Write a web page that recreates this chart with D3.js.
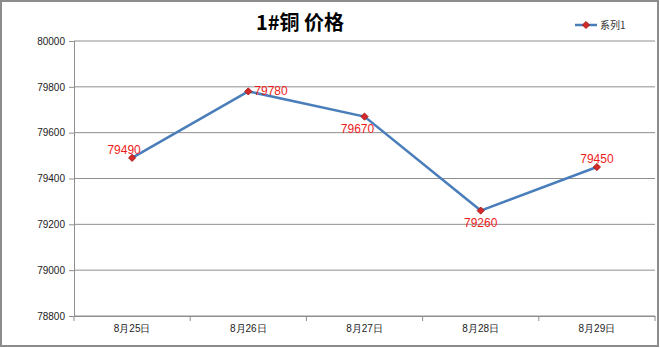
<!DOCTYPE html>
<html>
<head>
<meta charset="utf-8">
<script src="https://cdn.jsdelivr.net/npm/d3@7"></script>
<style>
  body { margin: 0; background: #fff; }
  svg { display: block; font-family: "Liberation Sans", "Noto Sans CJK SC", sans-serif; }
</style>
</head>
<body>
<div id="chart"></div>
<script>
// data
const dates = ["8月25日", "8月26日", "8月27日", "8月28日", "8月29日"];
const prices = [79490, 79780, 79670, 79260, 79450];
const yTicks = [78800, 79000, 79200, 79400, 79600, 79800, 80000];
const seriesName = "系列1";
const chartTitle = "1#铜 价格";
// where each data label sits relative to its point
const labelPos = ["above", "right", "below", "below", "above"];

const W = 660, H = 348;
const margin = { top: 41, right: 5, bottom: 32, left: 74 },
  width = W - margin.left - margin.right,
  height = H - margin.top - margin.bottom;

const svg = d3.select("#chart")
  .append("svg")
  .attr("width", W)
  .attr("height", H);

// outer frame
svg.append("rect")
  .attr("x", 1).attr("y", 1)
  .attr("width", W - 3).attr("height", H - 3)
  .attr("fill", "#fff")
  .attr("stroke", "#8c8c8c")
  .attr("stroke-width", 2);

const g = svg.append("g")
  .attr("transform", `translate(${margin.left},${margin.top})`);

const x = d3.scaleBand()
  .domain(dates)
  .range([0, width]);

const y = d3.scaleLinear()
  .domain([78800, 80000])
  .range([height, 0]);

// gridlines
g.selectAll("line.grid")
  .data(yTicks)
  .enter()
  .append("line")
  .attr("class", "grid")
  .attr("x1", 0).attr("x2", width)
  .attr("y1", d => y(d)).attr("y2", d => y(d))
  .attr("stroke", "#8e8e8e")
  .attr("stroke-width", 1);

// y axis
const yAxis = g.append("g")
  .call(d3.axisLeft(y).tickValues(yTicks).tickSize(5).tickPadding(4).tickFormat(d3.format("d")));
yAxis.select(".domain").attr("stroke", "#8e8e8e");
yAxis.selectAll(".tick line").attr("stroke", "#8e8e8e");
yAxis.selectAll("text").attr("fill", "#222").style("font-size", "10px");

// x axis
const xAxis = g.append("g")
  .attr("transform", `translate(0,${height})`)
  .call(d3.axisBottom(x).tickSize(0).tickPadding(9));
xAxis.select(".domain").attr("stroke", "#8e8e8e");
xAxis.selectAll("text").attr("fill", "#222").style("font-size", "10px");
// tick marks at the category boundaries
g.selectAll("line.xtick")
  .data(dates.concat([null]))
  .enter()
  .append("line")
  .attr("class", "xtick")
  .attr("x1", (d, i) => i * x.step()).attr("x2", (d, i) => i * x.step())
  .attr("y1", height).attr("y2", height + 5)
  .attr("stroke", "#8e8e8e");

const cx = d => x(d) + x.bandwidth() / 2;

// line
g.append("path")
  .datum(prices)
  .attr("fill", "none")
  .attr("stroke", "#4a7ebb")
  .attr("stroke-width", 2.5)
  .attr("d", d3.line()
    .x((d, i) => cx(dates[i]))
    .y(d => y(d)));

// markers: square turned 45 degrees
const diamond = d3.symbol().type(d3.symbolSquare).size(26);
g.selectAll("path.marker")
  .data(prices)
  .enter()
  .append("path")
  .attr("class", "marker")
  .attr("d", diamond)
  .attr("transform", (d, i) => `translate(${cx(dates[i])},${y(d)}) rotate(45)`)
  .attr("fill", "#d42a2a")
  .attr("stroke", "#a01818")
  .attr("stroke-width", 0.8);

// data labels
g.selectAll("text.lbl")
  .data(prices)
  .enter()
  .append("text")
  .attr("class", "lbl")
  .attr("x", (d, i) => {
    const p = labelPos[i];
    if (p === "right") return cx(dates[i]) + 6;
    if (p === "above" && i === 0) return cx(dates[i]) - 8;
    if (i === 2) return cx(dates[i]) - 7;
    return cx(dates[i]);
  })
  .attr("y", (d, i) => {
    const p = labelPos[i];
    if (p === "right") return y(d) + 4;
    if (p === "above") return y(d) - 4;
    return y(d) + 16;
  })
  .attr("text-anchor", (d, i) => labelPos[i] === "right" ? "start" : "middle")
  .attr("fill", "#ee1c1c")
  .style("font-size", "12px")
  .text(d => d);

// title
svg.append("text")
  .attr("x", 300)
  .attr("y", 30)
  .attr("text-anchor", "middle")
  .style("font-family", "'Noto Sans CJK SC', sans-serif")
  .style("font-size", "20px")
  .style("font-weight", "bold")
  .attr("fill", "#000")
  .text(chartTitle);

// legend
const lg = svg.append("g").attr("transform", "translate(575,25)");
lg.append("line")
  .attr("x1", 0).attr("x2", 22)
  .attr("stroke", "#4a7ebb").attr("stroke-width", 2.5);
lg.append("path")
  .attr("d", diamond)
  .attr("transform", "translate(11,0) rotate(45)")
  .attr("fill", "#d42a2a")
  .attr("stroke", "#a01818")
  .attr("stroke-width", 0.8);
lg.append("text")
  .attr("x", 25).attr("y", 4)
  .style("font-family", "'Noto Sans CJK SC', sans-serif")
  .style("font-size", "10px")
  .attr("fill", "#333")
  .text(seriesName);
</script>
</body>
</html>
